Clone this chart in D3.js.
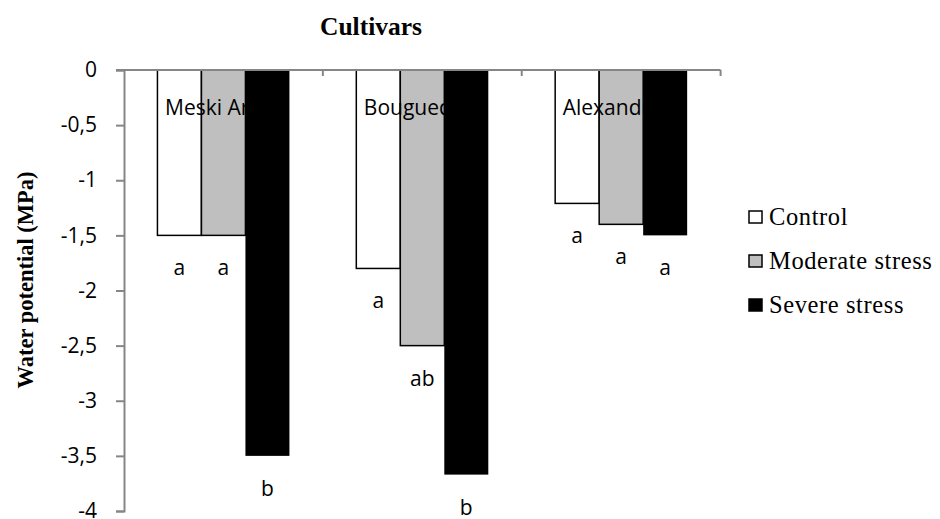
<!DOCTYPE html>
<html>
<head>
<meta charset="utf-8">
<script src="https://cdn.jsdelivr.net/npm/d3@7/dist/d3.min.js"></script>
<style>
  body{margin:0;background:#fff;}
  svg{display:block;}
</style>
</head>
<body>
<div id="chart"></div>
<script>
var cultivars=['Meski Arbi','Bouguedra','Alexandria'];
var treatments=['Control','Moderate stress','Severe stress'];
var control=[-1.5,-1.8,-1.21];
var moderate=[-1.5,-2.5,-1.4];
var severe=[-3.5,-3.67,-1.5];
var letterControl=['a','a','a'];
var letterModerate=['a','ab','a'];
var letterSevere=['b','b','a'];
var yTicks=[0,-0.5,-1,-1.5,-2,-2.5,-3,-3.5,-4];

var fills=['#ffffff','#bfbfbf','#000000'];
var width=940, height=519;
var axisColor='#868686';

var svg=d3.select('#chart').append('svg')
  .attr('width',width)
  .attr('height',height);

var x0=d3.scaleBand().domain(cultivars).range([124,720.6]);
var x1=d3.scaleBand().domain(treatments).range([0,x0.bandwidth()]).paddingOuter(0.76);
var y=d3.scaleLinear().domain([-4,0]).range([511,70]);

var seriesValues=[control,moderate,severe];
var seriesLetters=[letterControl,letterModerate,letterSevere];

function rows(k){
  return cultivars.map(function(c,i){
    return {cultivar:c,value:seriesValues[k][i],letter:seriesLetters[k][i],treat:treatments[k]};
  });
}

// y axis
var yAxis=d3.axisLeft(y).tickValues(yTicks).tickSize(8)
  .tickFormat(function(d){return d3.format('')(d).replace('.',',').replace('−','-');});
var gy=svg.append('g').attr('transform','translate(124,0)').call(yAxis);
gy.select('.domain').attr('stroke',axisColor).attr('stroke-width',2);
gy.selectAll('.tick line').attr('stroke',axisColor).attr('stroke-width',2);
gy.selectAll('.tick text')
  .attr('x',-27)
  .attr('fill','#000')
  .style('font-family','"Open Sans"')
  .style('font-size','21px');

// category axis on top (at zero)
var gx=svg.append('g').attr('transform','translate(0,'+y(0)+')');
var edges=cultivars.map(function(c){return x0(c);}).concat([x0.range()[1]]);
gx.selectAll('line.ctick').data(edges.slice(1)).enter().append('line')
  .attr('class','ctick')
  .attr('x1',function(d){return d;}).attr('x2',function(d){return d;})
  .attr('y1',0).attr('y2',6)
  .attr('stroke',axisColor).attr('stroke-width',2);

function drawBars(k){
  var g=svg.append('g');
  g.selectAll('rect').data(rows(k)).enter().append('rect')
    .attr('x',function(d){return x0(d.cultivar)+x1(d.treat);})
    .attr('y',y(0))
    .attr('width',x1.bandwidth())
    .attr('height',function(d){return y(d.value)-y(0);})
    .attr('fill',fills[k])
    .attr('stroke','#000')
    .attr('stroke-width',k==2?0:1.5);
  g.selectAll('text').data(rows(k)).enter().append('text')
    .attr('x',function(d){return x0(d.cultivar)+x1(d.treat)+x1.bandwidth()/2;})
    .attr('y',function(d){return y(d.value)+32;})
    .attr('text-anchor','middle')
    .attr('dominant-baseline','central')
    .style('font-family','"Open Sans"')
    .style('font-size','21px')
    .text(function(d){return d.letter;});
}

drawBars(0);
drawBars(1);

// category labels sit under the black bars
svg.selectAll('text.cat').data(cultivars).enter().append('text')
  .attr('class','cat')
  .attr('x',function(d){return x0(d)+41;})
  .attr('y',115)
  .style('font-family','"Open Sans"')
  .style('font-size','21px')
  .text(function(d){return d;});

drawBars(2);

// top axis line drawn over bars
svg.append('line').attr('x1',116).attr('x2',720.6).attr('y1',y(0)).attr('y2',y(0))
  .attr('stroke',axisColor).attr('stroke-width',2);

// title
svg.append('text')
  .attr('x',371).attr('y',35)
  .attr('text-anchor','middle')
  .style('font-family','"Liberation Serif"')
  .style('font-weight','bold')
  .style('font-size','25.5px')
  .text('Cultivars');

// y axis title
svg.append('text')
  .attr('transform','translate(33,280) rotate(-90)')
  .attr('text-anchor','middle')
  .style('font-family','"Liberation Serif"')
  .style('font-weight','bold')
  .style('font-size','22.5px')
  .text('Water potential (MPa)');

// legend
var legendY=[217,261,305];
var lg=svg.selectAll('g.legend').data(treatments).enter().append('g')
  .attr('class','legend')
  .attr('transform',function(d,i){return 'translate(749,'+legendY[i]+')';});
lg.append('rect')
  .attr('x',0).attr('y',-6).attr('width',13).attr('height',12)
  .attr('fill',function(d,i){return fills[i];})
  .attr('stroke','#000').attr('stroke-width',1.5);
lg.append('text')
  .attr('x',20).attr('y',8)
  .style('font-family','"Liberation Serif"')
  .style('font-size','24.5px')
  .style('letter-spacing','0.6px')
  .text(function(d){return d;});
</script>
</body>
</html>
